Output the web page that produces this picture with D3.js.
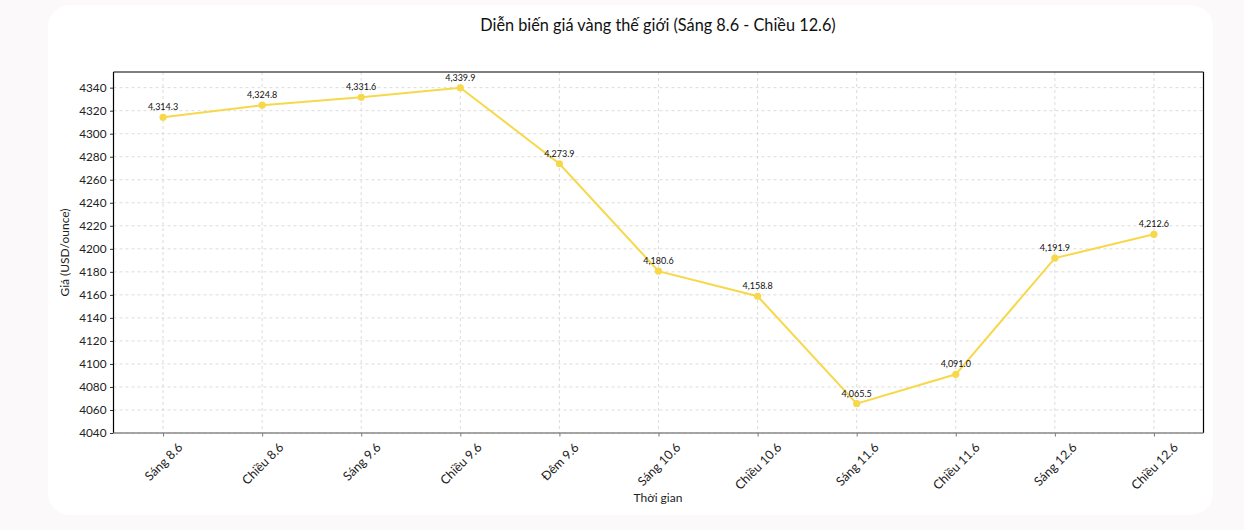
<!DOCTYPE html>
<html><head><meta charset="utf-8">
<script src="https://cdn.jsdelivr.net/npm/d3@7"></script>
<style>
html,body{margin:0;padding:0;background:#fcf9fa;}
svg{display:block;font-family:"Lato","Open Sans",sans-serif;}
</style></head>
<body>
<svg id="c" width="1244" height="530"></svg>
<script>
const categories = ["Sáng 8.6","Chiều 8.6","Sáng 9.6","Chiều 9.6","Đêm 9.6","Sáng 10.6","Chiều 10.6","Sáng 11.6","Chiều 11.6","Sáng 12.6","Chiều 12.6"];
const prices = [4314.3,4324.8,4331.6,4339.9,4273.9,4180.6,4158.8,4065.5,4091.0,4191.9,4212.6];
const yTicks = [4040,4060,4080,4100,4120,4140,4160,4180,4200,4220,4240,4260,4280,4300,4320,4340];
const title = "Diễn biến giá vàng thế giới (Sáng 8.6 - Chiều 12.6)";
const xTitle = "Thời gian";
const yTitle = "Giá (USD/ounce)";

const svg = d3.select("#c");
svg.append("rect").attr("x",48).attr("y",5).attr("width",1165).attr("height",510).attr("rx",22).attr("fill","#ffffff");

const L=113.5, R=1203.5, T=72, B=433;
const x = d3.scaleLinear().domain([-0.5, categories.length-0.5]).range([L,R]);
const y = d3.scaleLinear().domain([4040, 4353.6]).range([B,T]);

const g = svg.append("g");
// grid
g.selectAll(".hg").data(yTicks).join("line")
 .attr("x1",L).attr("x2",R).attr("y1",d=>y(d)).attr("y2",d=>y(d))
 .attr("stroke","#d3d3d3").attr("stroke-width",0.8).attr("stroke-dasharray","3,3");
g.selectAll(".vg").data(categories).join("line")
 .attr("x1",(d,i)=>x(i)).attr("x2",(d,i)=>x(i)).attr("y1",T).attr("y2",B)
 .attr("stroke","#d3d3d3").attr("stroke-width",0.8).attr("stroke-dasharray","3,3");

// axes
const yAxis = d3.axisLeft(y).tickValues(yTicks).tickFormat(d3.format("d")).tickSize(3.5).tickPadding(3.5);
const ya = svg.append("g").attr("transform",`translate(${L},0)`).call(yAxis);
ya.select(".domain").remove();
ya.selectAll("line").attr("stroke","#333");
ya.selectAll("text").attr("font-size",11.8).attr("fill","#222").attr("font-family","Lato, sans-serif");

const xAxis = d3.axisBottom(x).tickValues(d3.range(categories.length)).tickFormat(i=>categories[i]).tickSize(3.5).tickPadding(3.5);
const xa = svg.append("g").attr("transform",`translate(0,${B})`).call(xAxis);
xa.select(".domain").remove();
xa.selectAll("line").attr("stroke","#777");
xa.selectAll("text").attr("font-size",12.5).attr("fill","#222").attr("font-family","Lato, sans-serif")
 .each(function(){
   const t=d3.select(this);
   const w=this.getComputedTextLength(), h=11.5;
   const H=(w+h)*Math.SQRT1_2;
   t.attr("dy",null).attr("y",0).attr("text-anchor","middle").attr("dominant-baseline","central")
    .attr("transform",`translate(0,${8+H/2}) rotate(-45)`);
 });

// spines
svg.append("line").attr("x1",L).attr("x2",L).attr("y1",T).attr("y2",B).attr("stroke","#000").attr("stroke-width",1.2);
svg.append("line").attr("x1",R).attr("x2",R).attr("y1",T).attr("y2",B).attr("stroke","#000").attr("stroke-width",1.2);
svg.append("line").attr("x1",L).attr("x2",R).attr("y1",T).attr("y2",T).attr("stroke","#000").attr("stroke-width",1.2);
svg.append("line").attr("x1",L).attr("x2",R).attr("y1",B).attr("y2",B).attr("stroke","#888").attr("stroke-width",1.5);

// line
const line = d3.line().x((d,i)=>x(i)).y(d=>y(d));
svg.append("path").datum(prices).attr("d",line).attr("fill","none").attr("stroke","#f7d84a").attr("stroke-width",2);
svg.selectAll(".pt").data(prices).join("circle").attr("cx",(d,i)=>x(i)).attr("cy",d=>y(d)).attr("r",3.6).attr("fill","#f7d84a");
svg.selectAll(".lb").data(prices).join("text").attr("x",(d,i)=>x(i)).attr("y",d=>y(d)-7)
 .attr("text-anchor","middle").attr("font-size",9).attr("fill","#111").text(d=>d3.format(",.1f")(d));

// titles
svg.append("text").attr("x",658).attr("y",31).attr("text-anchor","middle").attr("font-size",16.3).attr("fill","#111").text(title);
svg.append("text").attr("x",658).attr("y",502).attr("text-anchor","middle").attr("font-size",12).attr("fill","#222").text(xTitle);
svg.append("text").attr("transform",`translate(69,${(T+B)/2}) rotate(-90)`).attr("text-anchor","middle").attr("font-size",12).attr("fill","#222").text(yTitle);
</script>
</body></html>
